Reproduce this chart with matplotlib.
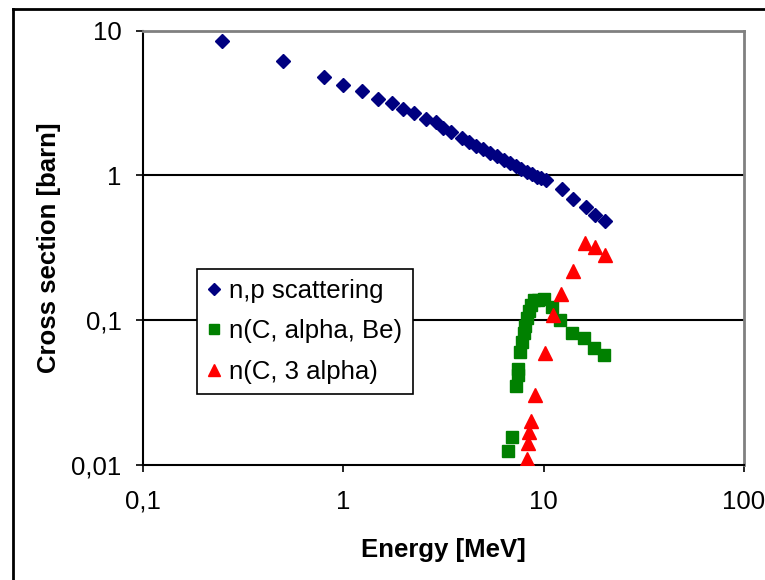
import matplotlib
matplotlib.use("Agg")
import matplotlib.pyplot as plt
from matplotlib.lines import Line2D
from matplotlib.ticker import FixedLocator, FixedFormatter, NullLocator

# n-p elastic scattering
np_energy = [0.25, 0.5, 0.8, 1.0, 1.25, 1.5, 1.75, 2.0, 2.25, 2.6, 2.9,
             3.15, 3.45, 3.9, 4.25, 4.6, 5.0, 5.4, 5.85, 6.35, 6.8, 7.3,
             7.7, 8.25, 8.75, 9.25, 9.7, 10.3, 12.3, 14.0, 16.2, 18.1, 20.3]
np_xs = [8.55, 6.2, 4.8, 4.23, 3.86, 3.4, 3.19, 2.87, 2.72, 2.45, 2.33,
         2.12, 1.99, 1.81, 1.71, 1.61, 1.52, 1.44, 1.36, 1.28, 1.22, 1.16,
         1.11, 1.06, 1.02, 0.98, 0.96, 0.93, 0.81, 0.686, 0.604, 0.534, 0.488]

# 12C(n, alpha)9Be
ca_energy = [6.66, 6.97, 7.28, 7.42, 7.47, 7.62, 7.8, 7.97, 8.11, 8.26, 8.45,
             8.65, 8.95, 9.37, 10.0, 11.0, 12.1, 13.9, 15.9, 17.9, 20.0]
ca_xs = [0.0124, 0.0155, 0.0354, 0.0419, 0.0464, 0.0607, 0.0711, 0.0813,
         0.0913, 0.103, 0.115, 0.128, 0.137, 0.138, 0.140, 0.124, 0.100,
         0.0813, 0.0758, 0.0647, 0.0571]

# 12C(n, n')3 alpha
c3a_energy = [8.28, 8.4, 8.48, 8.65, 9.05, 10.2, 11.2, 12.2, 14.1, 16.1, 18.0, 20.2]
c3a_xs = [0.011, 0.0141, 0.0168, 0.0202, 0.0305, 0.0594, 0.109, 0.151,
          0.219, 0.342, 0.323, 0.281]

x_ticks = [0.1, 1, 10, 100]
x_tick_labels = ["0,1", "1", "10", "100"]
y_ticks = [0.01, 0.1, 1, 10]
y_tick_labels = ["0,01", "0,1", "1", "10"]

plt.rcParams["font.family"] = ["Liberation Sans", "DejaVu Sans"]

W, H = 765, 580
fig = plt.figure(figsize=(W / 100, H / 100), dpi=100)
ax = fig.add_axes([142.5 / W, 1 - 465 / H, (744 - 142.5) / W, (465 - 30.7) / H])

ax.set_xscale("log")
ax.set_yscale("log")
ax.set_xlim(0.1, 100)
ax.set_ylim(0.01, 10)

ax.plot(np_energy, np_xs, linestyle="none", marker="D", markersize=6.8,
        color="#000080", label="n,p scattering", zorder=3)
ax.plot(ca_energy, ca_xs, linestyle="none", marker="s", markersize=8,
        color="#008000", label="n(C, alpha, Be)", zorder=3)
ax.plot(c3a_energy, c3a_xs, linestyle="none", marker="^", markersize=9.5,
        color="#FF0000", label="n(C, 3 alpha)", zorder=4)

ax.xaxis.set_major_locator(FixedLocator(x_ticks))
ax.xaxis.set_major_formatter(FixedFormatter(x_tick_labels))
ax.xaxis.set_minor_locator(NullLocator())
ax.yaxis.set_major_locator(FixedLocator(y_ticks))
ax.yaxis.set_major_formatter(FixedFormatter(y_tick_labels))
ax.yaxis.set_minor_locator(NullLocator())

ax.tick_params(axis="both", which="major", direction="out", length=5,
               width=1.2, color="black", labelsize=18.5, pad=10)
ax.tick_params(axis="x", pad=13)

# horizontal gridlines only
for yv in (0.1, 1):
    ax.axhline(yv, color="black", linewidth=1.5, zorder=1)

for side in ("top", "right"):
    ax.spines[side].set_color("#808080")
    ax.spines[side].set_linewidth(2)
for side in ("left", "bottom"):
    ax.spines[side].set_color("black")
    ax.spines[side].set_linewidth(1.5)

ax.set_xlabel("Energy [MeV]", fontsize=18.5, fontweight="bold")
ax.set_ylabel("Cross section [barn]", fontsize=18.5, fontweight="bold")
ax.xaxis.set_label_coords(0.5, (465 - 538) / (465 - 30.7))
ax.yaxis.set_label_coords((61 - 142.5) / (744 - 142.5), 0.5)

leg = ax.legend(loc="upper left", bbox_to_anchor=((197 - 142.5) / (744 - 142.5),
                (465 - 269) / (465 - 30.7)),
                fontsize=18.5, frameon=True, fancybox=False, framealpha=1,
                edgecolor="black", markerscale=0.9, handlelength=0.5,
                handletextpad=0.35, borderpad=0.4, labelspacing=0.63,
                borderaxespad=0)
leg.get_frame().set_linewidth(1.2)
leg.set_zorder(5)

# outer chart frame
fig.add_artist(Line2D([13 / W, 13 / W], [0, 1 - 9 / H], color="black",
                      linewidth=2, transform=fig.transFigure))
fig.add_artist(Line2D([13 / W, 1], [1 - 9 / H, 1 - 9 / H], color="black",
                      linewidth=2, transform=fig.transFigure))

fig.savefig("out.png", dpi=100)
